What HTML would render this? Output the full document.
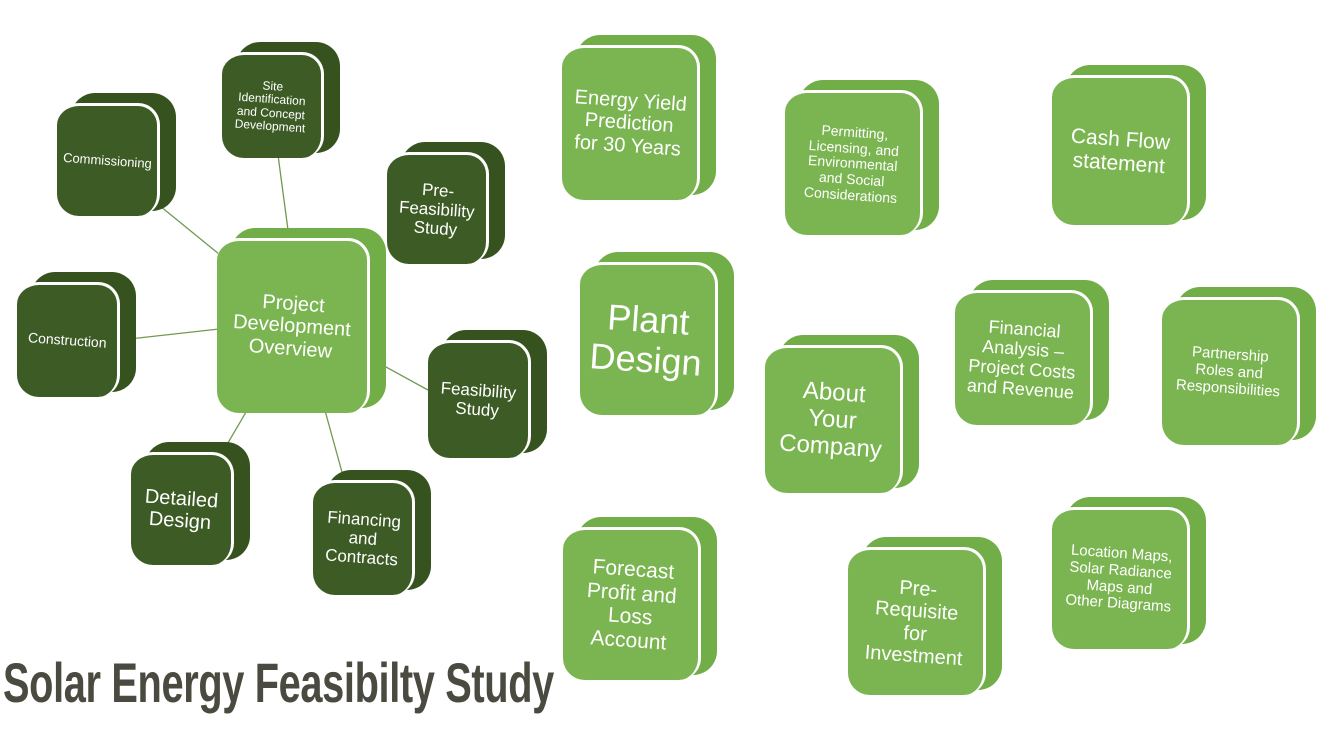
<!DOCTYPE html>
<html><head><meta charset="utf-8"><style>
body{margin:0;width:1337px;height:734px;background:#fff;position:relative;overflow:hidden;font-family:"Liberation Sans",sans-serif}
.b{position:absolute}
.bk{position:absolute;left:14px;top:-10px;right:-16px;bottom:5px;border-radius:24px}
.fr{position:absolute;left:0;top:0;right:0;bottom:0;border-radius:22px;border-top:3px solid #fff;border-right:3px solid #fff;display:flex;align-items:center;justify-content:center;text-align:center;color:#fff;box-sizing:border-box}
.fr span{transform:rotate(4deg);line-height:1.12;display:block}
.d .bk{background:#36531f}.d .fr{background:#3d5b25}
.l .bk{background:#72ae48}.l .fr{background:#7bb551}
svg{position:absolute;left:0;top:0}
.t{position:absolute;left:3px;top:650px;font-size:56px;font-weight:bold;color:#4a4a40;transform:scaleX(0.71);transform-origin:left top;white-space:nowrap;letter-spacing:-0.5px}
</style></head><body>
<svg width="1337" height="734"><g stroke="#6f9a50" stroke-width="1.3">
<line x1="160" y1="206" x2="300" y2="320"/><line x1="278" y1="155" x2="300" y2="320"/>
<line x1="385" y1="254" x2="300" y2="320"/><line x1="120" y1="340" x2="300" y2="320"/>
<line x1="428" y1="390" x2="300" y2="320"/><line x1="215" y1="465" x2="300" y2="320"/>
<line x1="345" y1="483" x2="300" y2="320"/></g></svg>

<div class="b d" style="left:222px;top:52px;width:102px;height:106px"><div class="bk"></div><div class="fr" style="font-size:12px"><span>Site<br>Identification<br>and Concept<br>Development</span></div></div>
<div class="b d" style="left:57px;top:103px;width:103px;height:113px"><div class="bk"></div><div class="fr" style="font-size:13px"><span>Commissioning</span></div></div>
<div class="b d" style="left:387px;top:152px;width:102px;height:112px"><div class="bk"></div><div class="fr" style="font-size:17px"><span>Pre-<br>Feasibility<br>Study</span></div></div>
<div class="b d" style="left:17px;top:282px;width:103px;height:115px"><div class="bk"></div><div class="fr" style="font-size:14px"><span>Construction</span></div></div>
<div class="b d" style="left:428px;top:340px;width:103px;height:118px"><div class="bk"></div><div class="fr" style="font-size:17px"><span>Feasibility<br>Study</span></div></div>
<div class="b d" style="left:131px;top:452px;width:103px;height:113px"><div class="bk"></div><div class="fr" style="font-size:20px"><span>Detailed<br>Design</span></div></div>
<div class="b d" style="left:313px;top:480px;width:102px;height:115px"><div class="bk"></div><div class="fr" style="font-size:17px"><span>Financing<br>and<br>Contracts</span></div></div>
<div class="b l" style="left:217px;top:238px;width:153px;height:175px"><div class="bk"></div><div class="fr" style="font-size:20px"><span>Project<br>Development<br>Overview</span></div></div>

<div class="b l" style="left:562px;top:45px;width:138px;height:155px"><div class="bk"></div><div class="fr" style="font-size:20px"><span>Energy Yield<br>Prediction<br>for 30 Years</span></div></div>
<div class="b l" style="left:785px;top:90px;width:138px;height:145px"><div class="bk"></div><div class="fr" style="font-size:14px"><span>Permitting,<br>Licensing, and<br>Environmental<br>and Social<br>Considerations</span></div></div>
<div class="b l" style="left:1052px;top:75px;width:138px;height:150px"><div class="bk"></div><div class="fr" style="font-size:21px"><span>Cash Flow<br>statement</span></div></div>
<div class="b l" style="left:580px;top:262px;width:138px;height:153px"><div class="bk"></div><div class="fr" style="font-size:36px"><span>Plant<br>Design</span></div></div>
<div class="b l" style="left:765px;top:345px;width:138px;height:148px"><div class="bk"></div><div class="fr" style="font-size:24px"><span>About<br>Your<br>Company</span></div></div>
<div class="b l" style="left:955px;top:290px;width:138px;height:135px"><div class="bk"></div><div class="fr" style="font-size:18px"><span>Financial<br>Analysis –<br>Project Costs<br>and Revenue</span></div></div>
<div class="b l" style="left:1162px;top:297px;width:138px;height:148px"><div class="bk"></div><div class="fr" style="font-size:15px"><span>Partnership<br>Roles and<br>Responsibilities</span></div></div>
<div class="b l" style="left:563px;top:527px;width:138px;height:153px"><div class="bk"></div><div class="fr" style="font-size:21px"><span>Forecast<br>Profit and<br>Loss<br>Account</span></div></div>
<div class="b l" style="left:848px;top:547px;width:138px;height:148px"><div class="bk"></div><div class="fr" style="font-size:20px"><span>Pre-<br>Requisite<br>for<br>Investment</span></div></div>
<div class="b l" style="left:1052px;top:507px;width:138px;height:142px"><div class="bk"></div><div class="fr" style="font-size:15px"><span>Location Maps,<br>Solar Radiance<br>Maps and<br>Other Diagrams</span></div></div>

<div class="t">Solar Energy Feasibilty Study</div>
</body></html>
